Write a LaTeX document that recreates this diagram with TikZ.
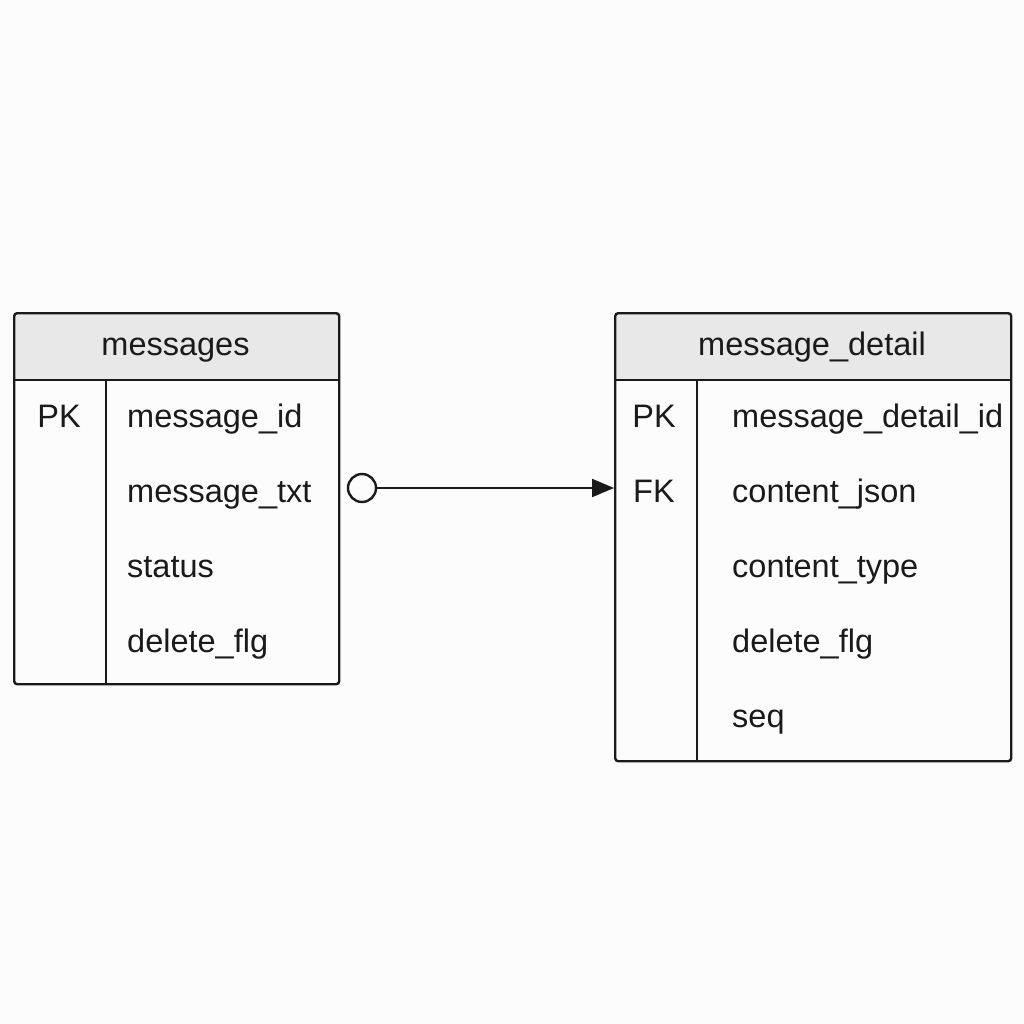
\documentclass[tikz,border=0pt]{standalone}
\usepackage{fontspec}
\setmainfont{Liberation Sans}
\usetikzlibrary{arrows.meta}
\definecolor{hdrgray}{HTML}{E8E8E8}
\definecolor{bggray}{HTML}{FCFCFC}
\definecolor{ink}{HTML}{1A1A1A}
\begin{document}
\begin{tikzpicture}[x=1pt,y=-1pt,line width=2.4pt,
    txt/.style={anchor=base,inner sep=0pt,text=ink,font=\fontsize{32.5}{39}\selectfont},
    col/.style={txt,anchor=base west},
    tbl/.style={draw=ink,rounded corners=3pt,anchor=north west,inner sep=0pt}]
        \fill[bggray] (0,0) rectangle (1024,1024);
        % messages
        \fill[hdrgray,rounded corners=3pt] (13,380) |- (338,312) -- (338,380) -- cycle;
        \node[tbl,minimum width=325pt,minimum height=371pt] (messages) at (13,312) {};
        \draw[ink] ([yshift=-68pt]messages.north west) -- ([yshift=-68pt]messages.north east);
        \draw[ink] ([xshift=93pt,yshift=-68pt]messages.north west) -- ([xshift=93pt]messages.south west);
        \node[txt] (msgtitle) at (175.5,355) {messages};
        \node[txt] (msgpk) at (59,427) {PK};
        \foreach \name [count=\i] in {message\_id,message\_txt,status,delete\_flg}
            \node[col] (msg\i) at (126,352+75*\i) {\name};
        % message_detail
        \fill[hdrgray,rounded corners=3pt] (614,380) |- (1010,312) -- (1010,380) -- cycle;
        \node[tbl,minimum width=396pt,minimum height=448pt] (detail) at (614,312) {};
        \draw[ink] ([yshift=-68pt]detail.north west) -- ([yshift=-68pt]detail.north east);
        \draw[ink] ([xshift=83pt,yshift=-68pt]detail.north west) -- ([xshift=83pt]detail.south west);
        \node[txt] (dettitle) at (812,355) {message\_detail};
        \node[txt] (detpk) at (654,427) {PK};
        \node[txt] (detfk) at (654,502) {FK};
        \foreach \name [count=\i] in {message\_detail\_id,content\_json,content\_type,delete\_flg,seq}
            \node[col] (det\i) at (731,352+75*\i) {\name};
        % relation
        \node[draw=ink,circle,minimum size=28pt,inner sep=0pt] (opt) at (362,488) {};
        \draw[ink,line width=2.2pt,-{Triangle[length=22pt,width=18pt]}] (opt.east) -- (opt.east -| detail.west);
    \end{tikzpicture}
\end{document}
